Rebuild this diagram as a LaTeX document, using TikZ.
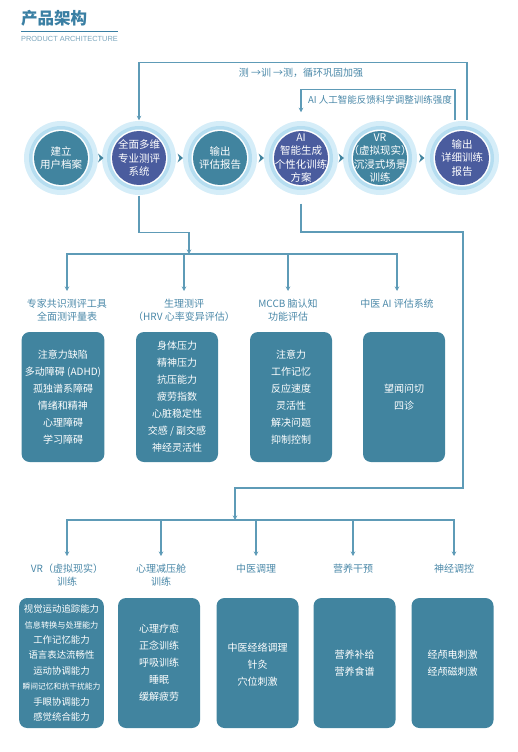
\documentclass[tikz,border=0pt]{standalone}
\usepackage{fontspec}
\setmainfont{Noto Sans CJK SC}
\newfontfamily\latinfont{Liberation Sans}
\usepackage{tikz}
\usetikzlibrary{positioning,calc,arrows.meta}

\definecolor{archtitle}{HTML}{3A7FA3}
\definecolor{archsub}{HTML}{7BA6BD}
\definecolor{archlabel}{HTML}{4A88A8}
\definecolor{archline}{HTML}{5E9BB7}
\definecolor{archhalo}{HTML}{D5EDF8}
\definecolor{archring}{HTML}{B5DDF0}
\definecolor{archteal}{HTML}{41849F}
\definecolor{archindigo}{HTML}{4A5C9E}

\begin{document}
\begin{tikzpicture}[
    x=1pt, y=-1pt,
    stage/.style={circle, minimum size=54pt, inner sep=0pt, outer sep=10pt, text=white, align=center, font=\fontsize{10.5}{13.3}\selectfont},
    link/.style={draw=archline, line width=1.1pt},
    tip/.style={-{Stealth[length=4.5pt,width=4.5pt]}},
    heading/.style={text=archlabel, align=center, anchor=north, inner xsep=1pt, inner ysep=8pt, font=\fontsize{10}{12.5}\selectfont},
    panel/.style={rectangle, rounded corners=8pt, fill=archteal, text=white, minimum width=82pt, minimum height=130pt, align=center, font=\fontsize{10}{17}\selectfont},
    note/.style={text=archlabel, inner sep=1pt, font=\fontsize{9.5}{11}\selectfont}
]
    \useasboundingbox (0,0) rectangle (518,752);

    % Title
    \node[anchor=west, inner sep=0pt, text=archtitle, font=\fontsize{16.5}{16.5}\selectfont\bfseries] (title) at (21,18) {产品架构};
    \draw[archtitle, line width=1pt] (21,31.5) -- (118,31.5);
    \node[anchor=west, inner sep=0pt, text=archsub, font=\latinfont\fontsize{7.4}{7.4}\selectfont] (subtitle) at (21,39) {PRODUCT ARCHITECTURE};

    % Halos and discs behind the stages
    \foreach \x/\c in {61/archteal,139/archindigo,220/archteal,301/archindigo,380/archteal,462/archindigo} {
        \fill[archhalo] (\x,158) circle (37pt);
        \fill[archring] (\x,158) circle (32pt);
        \fill[white] (\x,158) circle (28.5pt);
        \fill[\c] (\x,158) circle (27pt);
    }

    % Process stages
    \node[stage] (profile) at (61,158) {建立\\用户档案};
    \node[stage] (assess) at (139,158) {全面多维\\专业测评\\系统};
    \node[stage] (report) at (220,158) {输出\\评估报告};
    \node[stage] (plan) at (301,158) {AI\\智能生成\\个性化训练\\方案};
    \node[stage] (vrtrain) at (380,158) {VR\\（虚拟现实）\\沉浸式场景\\训练};
    \node[stage] (final) at (462,158) {输出\\详细训练\\报告};

    \foreach \a/\b in {profile/assess,assess/report,report/plan,plan/vrtrain,vrtrain/final}
        \fill[archteal] ($(\a)!0.5!(\b)$) ++(-2,-4.5) -- ++(5.5,4.5) -- ++(-5.5,4.5) -- ++(1.8,-4.5) -- cycle;

    % Feedback loops
    \draw[link, tip] ([xshift=5pt]final.north) -- ++(0,-58) -| (assess.north);
    \draw[link, tip] ([xshift=-7pt]final.north) -- ++(0,-31) -| (plan.north);
    \node[note, font=\fontsize{10}{11}\selectfont] (looptext) at (301,73) {测 →训 →测，循环巩固加强};
    \node[note] (aitext) at (380,100) {AI 人工智能反馈科学调整训练强度};

    % Assessment branch
    \coordinate (hub1) at (189,254);
    \draw[link, tip] (assess.south) -- ++(0,37) -| (hub1);

    \node[heading] (tool) at (67,291) {专家共识测评工具\\全面测评量表};
    \node[heading] (hrv) at (184,291) {生理测评\\（HRV 心率变异评估）};
    \node[heading] (mccb) at (288,291) {MCCB 脑认知\\功能评估};
    \node[heading] (tcmai) at (397,291) {中医 AI 评估系统};
    \foreach \n in {tool,hrv,mccb,tcmai}
        \draw[link, tip] (hub1) -| (\n.north);

    \node[panel] (toolbox) at (63,397) {注意力缺陷\\多动障碍 (ADHD)\\孤独谱系障碍\\情绪和精神\\心理障碍\\学习障碍};
    \node[panel] (hrvbox) at (177,397) {身体压力\\精神压力\\抗压能力\\疲劳指数\\心脏稳定性\\交感 / 副交感\\神经灵活性};
    \node[panel] (mccbbox) at (291,397) {注意力\\工作记忆\\反应速度\\灵活性\\解决问题\\抑制控制};
    \node[panel] (tcmaibox) at (404,397) {望闻问切\\四诊};

    % Intervention branch
    \coordinate (bend1) at (463,232);
    \coordinate (bend2) at (463,488);
    \coordinate (hub2) at (235,520);
    \draw[link, tip] (plan.south) |- (bend1) -- (bend2) -| (hub2);

    \node[heading] (vrlab) at (67,556) {VR（虚拟现实）\\训练};
    \node[heading] (decomp) at (161,556) {心理减压舱\\训练};
    \node[heading] (tcm) at (256,556) {中医调理};
    \node[heading] (diet) at (353,556) {营养干预};
    \node[heading] (neuro) at (454,556) {神经调控};
    \foreach \n in {vrlab,decomp,tcm,diet,neuro}
        \draw[link, tip] (hub2) -| (\n.north);

    \node[panel, font=\fontsize{9.4}{15.4}\selectfont] (vrbox) at (61.5,663) {视觉运动追踪能力\\{\fontsize{8.2}{15.4}\selectfont 信息转换与处理能力}\\工作记忆能力\\语言表达流畅性\\运动协调能力\\{\fontsize{7.8}{15.4}\selectfont 瞬间记忆和抗干扰能力}\\手眼协调能力\\感觉统合能力};
    \node[panel] (decompbox) at (159,663) {心理疗愈\\正念训练\\呼吸训练\\睡眠\\缓解疲劳};
    \node[panel] (tcmbox) at (257.5,663) {\mbox{}\\[-5pt]中医经络调理\\针灸\\穴位刺激};
    \node[panel] (dietbox) at (354.5,663) {营养补给\\营养食谱};
    \node[panel] (neurobox) at (452.5,663) {经颅电刺激\\经颅磁刺激};
\end{tikzpicture}
\end{document}
